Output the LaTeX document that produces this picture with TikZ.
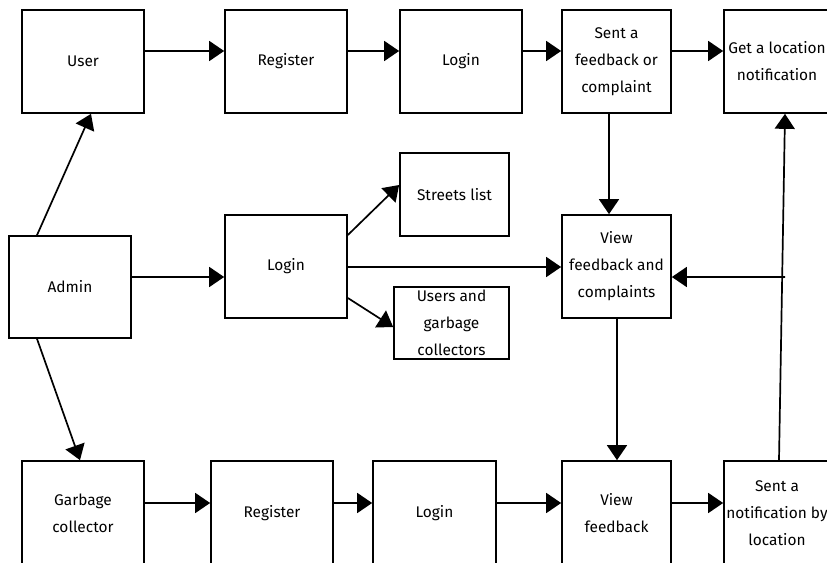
\documentclass[tikz,border=0pt]{standalone}
\usepackage{fontspec}
\setmainfont{Fira Sans}
\usetikzlibrary{arrows.meta}
\tikzset{
  box/.style={draw=black, line width=1.7bp, fill=white, align=center, inner sep=0pt,
    font=\fontsize{15.5}{27}\selectfont},
  conn/.style={line width=1.7bp, -{Triangle[length=15bp,width=20bp]}},
  plain/.style={line width=1.7bp}
}
\begin{document}
\begin{tikzpicture}[x=1bp,y=-1bp]
\useasboundingbox (0,0) rectangle (827,563);
\clip (0,0) rectangle (827,563);
% top row
\node[box, minimum width=122bp, minimum height=103bp] (user) at (83,61.5) {User};
\node[box, minimum width=122bp, minimum height=103bp] (reg1) at (286,61.5) {Register};
\node[box, minimum width=122bp, minimum height=103bp] (login1) at (461,61.5) {Login};
\node[box, minimum width=109bp, minimum height=103bp] (sent) at (616.5,61.5) {Sent a\\feedback or\\complaint};
\node[box, minimum width=106bp, minimum height=103bp] (getloc) at (777,61.5) {Get a location\\notification};
% middle
\node[box, minimum width=109bp, minimum height=83bp] (streets) at (454.5,194.5) {Streets list};
\node[box, minimum width=122bp, minimum height=102bp] (admin) at (70,287) {Admin};
\node[box, minimum width=122bp, minimum height=103bp] (login2) at (286,266.5) {Login};
\node[box, minimum width=115bp, minimum height=72bp] (users) at (451.5,323) {Users and\\garbage\\collectors};
\node[box, minimum width=109bp, minimum height=103bp] (viewfc) at (616.5,266.5) {View\\feedback and\\complaints};
% bottom row
\node[box, minimum width=122bp, minimum height=104bp] (gc) at (83,513) {Garbage\\collector};
\node[box, minimum width=122bp, minimum height=104bp] (reg2) at (272,513) {Register};
\node[box, minimum width=123bp, minimum height=104bp] (login3) at (434.5,513) {Login};
\node[box, minimum width=109bp, minimum height=104bp] (viewf) at (616.5,513) {View\\feedback};
\node[box, minimum width=106bp, minimum height=104bp] (sentn) at (777,513) {Sent a\\notification by\\location};
\coordinate (j) at (785,277);
% top row connectors
\draw[conn] ([yshift=10.5bp]user.east) -- ([yshift=10.5bp]reg1.west);
\draw[conn] ([yshift=10.5bp]reg1.east) -- ([yshift=10.5bp]login1.west);
\draw[conn] ([yshift=10.5bp]login1.east) -- ([yshift=10.5bp]sent.west);
\draw[conn] ([yshift=10.5bp]sent.east) -- ([yshift=10.5bp]getloc.west);
\draw[conn] ([xshift=-7.5bp]sent.south) -- ([xshift=-7.5bp]viewfc.north);
% admin
\draw[conn] ([xshift=-33bp]admin.north) -- ([xshift=8bp]user.south);
\draw[conn] ([xshift=-33bp]admin.south) -- ([xshift=-3bp]gc.north);
\draw[conn] ([yshift=10bp]admin.east) -- ([yshift=-10.5bp]login2.west);
\draw[conn] ([yshift=31.5bp]login2.east) -- ([yshift=9.5bp]streets.west);
\draw[conn] ([yshift=-31.5bp]login2.east) -- ([yshift=-4bp]users.west);
\draw[conn] ([yshift=-0.5bp]login2.east) -- ([yshift=-0.5bp]viewfc.west);
\draw[conn] ([xshift=0.5bp]viewfc.south) -- ([xshift=0.5bp]viewf.north);
% right side
\draw[conn] ([xshift=2bp]sentn.north) -- ([xshift=8bp]getloc.south);
\draw[conn] (j) -- ([yshift=-10.5bp]viewfc.east);
% bottom row connectors
\draw[conn] ([yshift=10bp]gc.east) -- ([yshift=10bp]reg2.west);
\draw[conn] ([yshift=10bp]reg2.east) -- ([yshift=10bp]login3.west);
\draw[conn] ([yshift=10bp]login3.east) -- ([yshift=10bp]viewf.west);
\draw[conn] ([yshift=10bp]viewf.east) -- ([yshift=10bp]sentn.west);
\end{tikzpicture}
\end{document}
